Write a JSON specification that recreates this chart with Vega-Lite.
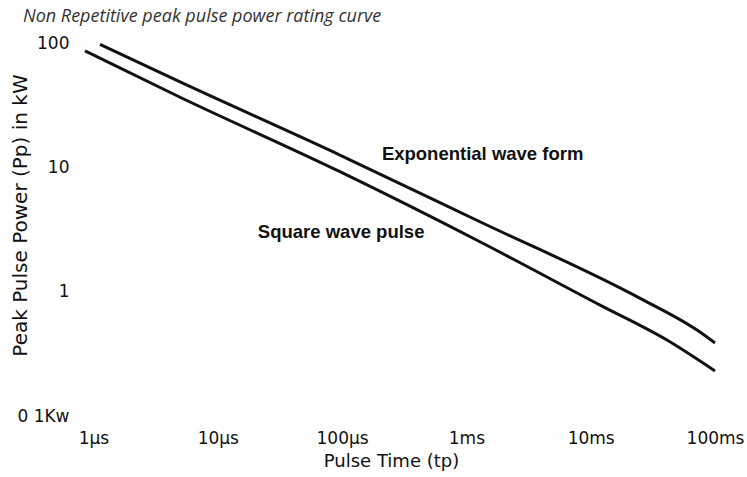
{
  "$schema": "https://vega.github.io/schema/vega-lite/v6.json",
  "autosize": {"type": "none"},
  "width": 640,
  "height": 373,
  "padding": {"left": 75, "top": 43, "right": 32, "bottom": 61},
  "background": "white",
  "config": {"view": {"stroke": null}},
  "title": {
    "text": "Non Repetitive peak pulse power rating curve",
    "anchor": "start",
    "frame": "group",
    "dx": -52,
    "offset": 8,
    "font": "Open Sans",
    "fontSize": 18,
    "fontStyle": "italic",
    "fontWeight": "normal",
    "color": "#333"
  },
  "datasets": {
    "curves": [
      {"series": "Exponential", "t": 1.128e-6, "p": 97.3},
      {"series": "Exponential", "t": 4.97e-6, "p": 48.6},
      {"series": "Exponential", "t": 9.61e-5, "p": 12.56},
      {"series": "Exponential", "t": 1.285e-3, "p": 3.65},
      {"series": "Exponential", "t": 2.5e-2, "p": 0.883},
      {"series": "Exponential", "t": 7.57e-2, "p": 0.473},
      {"series": "Exponential", "t": 0.1, "p": 0.386},
      {"series": "Square", "t": 8.55e-7, "p": 86.3},
      {"series": "Square", "t": 4.97e-6, "p": 36.6},
      {"series": "Square", "t": 9.61e-5, "p": 9.22},
      {"series": "Square", "t": 1.285e-3, "p": 2.52},
      {"series": "Square", "t": 1.19e-2, "p": 0.78},
      {"series": "Square", "t": 4.11e-2, "p": 0.408},
      {"series": "Square", "t": 0.1, "p": 0.23}
    ],
    "labels": [
      {"label": "Exponential wave form", "t": 2.09e-4, "p": 12.8},
      {"label": "Square wave pulse", "t": 2.1e-5, "p": 3.02}
    ]
  },
  "layer": [
    {
      "data": {"name": "curves"},
      "mark": {"type": "line", "strokeWidth": 3, "color": "#111", "strokeCap": "butt", "interpolate": "monotone"},
      "encoding": {
        "x": {
          "field": "t",
          "type": "quantitative",
          "scale": {"type": "log", "domain": [7.1e-7, 0.1], "nice": false},
          "axis": {
            "values": [1e-6, 1e-5, 1e-4, 1e-3, 1e-2, 0.1],
            "labelExpr": "datum.value < 5e-6 ? '1µs' : datum.value < 5e-5 ? '10µs' : datum.value < 5e-4 ? '100µs' : datum.value < 5e-3 ? '1ms' : datum.value < 5e-2 ? '10ms' : '100ms'",
            "domain": false,
            "ticks": false,
            "tickSize": 0,
            "grid": false,
            "labelFlush": false,
            "labelFont": "DejaVu Sans",
            "labelFontSize": 17,
            "labelColor": "#111",
            "labelPadding": 14,
            "labelBaseline": "top",
            "title": "Pulse Time (tp)",
            "titleFont": "DejaVu Sans",
            "titleFontSize": 18,
            "titleFontWeight": "normal",
            "titleColor": "#111",
            "titleBaseline": "alphabetic",
            "titleAlign": "center",
            "titleX": 316,
            "titleY": 50
          }
        },
        "y": {
          "field": "p",
          "type": "quantitative",
          "scale": {"type": "log", "domain": [0.1, 100], "nice": false},
          "axis": {
            "values": [0.1, 1, 10, 100],
            "labelExpr": "datum.value < 0.5 ? '0 1Kw' : datum.label",
            "format": "d",
            "domain": false,
            "ticks": false,
            "tickSize": 0,
            "grid": false,
            "labelFlush": false,
            "labelFont": "DejaVu Sans",
            "labelFontSize": 17,
            "labelColor": "#111",
            "labelPadding": 6,
            "title": "Peak Pulse Power (Pp) in kW",
            "titleFont": "DejaVu Sans",
            "titleFontSize": 20,
            "titleFontWeight": "normal",
            "titleColor": "#111",
            "titleBaseline": "alphabetic",
            "titleAlign": "center",
            "titleAngle": -90,
            "titleX": -49,
            "titleY": 172
          }
        },
        "detail": {"field": "series"}
      }
    },
    {
      "data": {"name": "labels"},
      "mark": {"type": "text", "align": "left", "baseline": "middle", "font": "Liberation Sans", "fontSize": 18.5, "fontWeight": "bold", "color": "#111"},
      "encoding": {
        "x": {"field": "t", "type": "quantitative"},
        "y": {"field": "p", "type": "quantitative"},
        "text": {"field": "label"}
      }
    }
  ]
}
